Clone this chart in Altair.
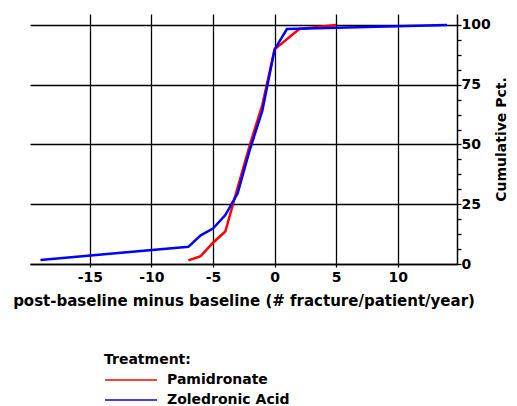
import altair as alt
import pandas as pd

pam_x = [-7, -6, -5, -4, -3, -2, -1, 0, 2, 5]
pam_y = [1.5, 3.3, 8.9, 13.6, 32, 50, 66.5, 89.8, 98.3, 100]
zol_x = [-19, -7, -6, -5, -4, -3, -2, -1, 0, 1, 14]
zol_y = [1.7, 7.2, 12, 14.8, 20.5, 29.6, 48, 64, 89.8, 98.3, 100]
treatments = ["Pamidronate", "Zoledronic Acid"]
colors = ["#ff0000", "#0000ff"]
x_ticks = [-15, -10, -5, 0, 5, 10]
y_ticks = [0, 6.25, 12.5, 18.75, 25, 31.25, 37.5, 43.75, 50, 56.25, 62.5,
           68.75, 75, 81.25, 87.5, 93.75, 100]

df = pd.concat([
    pd.DataFrame({"x": pam_x, "y": pam_y, "Treatment": treatments[0], "o": range(len(pam_x))}),
    pd.DataFrame({"x": zol_x, "y": zol_y, "Treatment": treatments[1], "o": range(len(zol_x))}),
])

FONT = "DejaVu Sans"

chart = alt.Chart(df).mark_line(strokeWidth=2.5).encode(
    x=alt.X("x:Q",
            scale=alt.Scale(domain=[-19.85, 14.8], nice=False, zero=False),
            axis=alt.Axis(values=x_ticks, title="post-baseline minus baseline (# fracture/patient/year)",
                          labelExpr="'' + datum.value",
                          grid=True, gridColor="#000000", gridWidth=1.3, gridOpacity=1,
                          domainColor="#000000", domainWidth=1.5,
                          tickColor="#000000", tickSize=3, tickWidth=1.3,
                          labelFont=FONT, labelFontSize=14, labelFontWeight="bold", labelColor="#000000",
                          labelPadding=3,
                          titleFont=FONT, titleFontSize=15, titleFontWeight="bold", titleColor="#000000",
                          titlePadding=9)),
    y=alt.Y("y:Q",
            scale=alt.Scale(domain=[0, 104.6], nice=False),
            axis=alt.Axis(orient="right", values=y_ticks, title="Cumulative Pct.",
                          labelExpr="datum.value % 25 === 0 ? '' + datum.value : ''",
                          grid=True, gridColor="#000000", gridWidth=1.3,
                          gridOpacity={"condition": {"test": "datum.value % 25 === 0", "value": 1}, "value": 0},
                          domainColor="#000000", domainWidth=1.5,
                          tickColor="#000000", tickSize=4, tickWidth=1.3,
                          labelFont=FONT, labelFontSize=14, labelFontWeight="bold", labelColor="#000000",
                          labelPadding=0, labelBaseline="middle",
                          titleFont=FONT, titleFontSize=14, titleFontWeight="bold", titleColor="#000000",
                          titleAngle=270, titlePadding=18)),
    color=alt.Color("Treatment:N",
                    scale=alt.Scale(domain=treatments, range=colors),
                    legend=alt.Legend(orient="none", legendX=74, legendY=339,
                                      symbolType="stroke", symbolSize=2704, symbolStrokeWidth=1.5,
                                      clipHeight=20, rowPadding=0, labelOffset=9,
                                      title="Treatment:", titleFont=FONT, titleFontSize=14,
                                      titleFontWeight="bold", titleColor="#000000", titlePadding=3,
                                      labelFont=FONT, labelFontSize=14, labelFontWeight="bold",
                                      labelColor="#000000")),
    order="o:Q",
).properties(width=427, height=250,
             autosize=alt.AutoSizeParams(type="none"),
             padding={"left": 22, "top": 6, "right": 52, "bottom": 146}
).configure_view(stroke=None)

chart.save("out.html", embed_options={"renderer": "svg", "actions": False})
